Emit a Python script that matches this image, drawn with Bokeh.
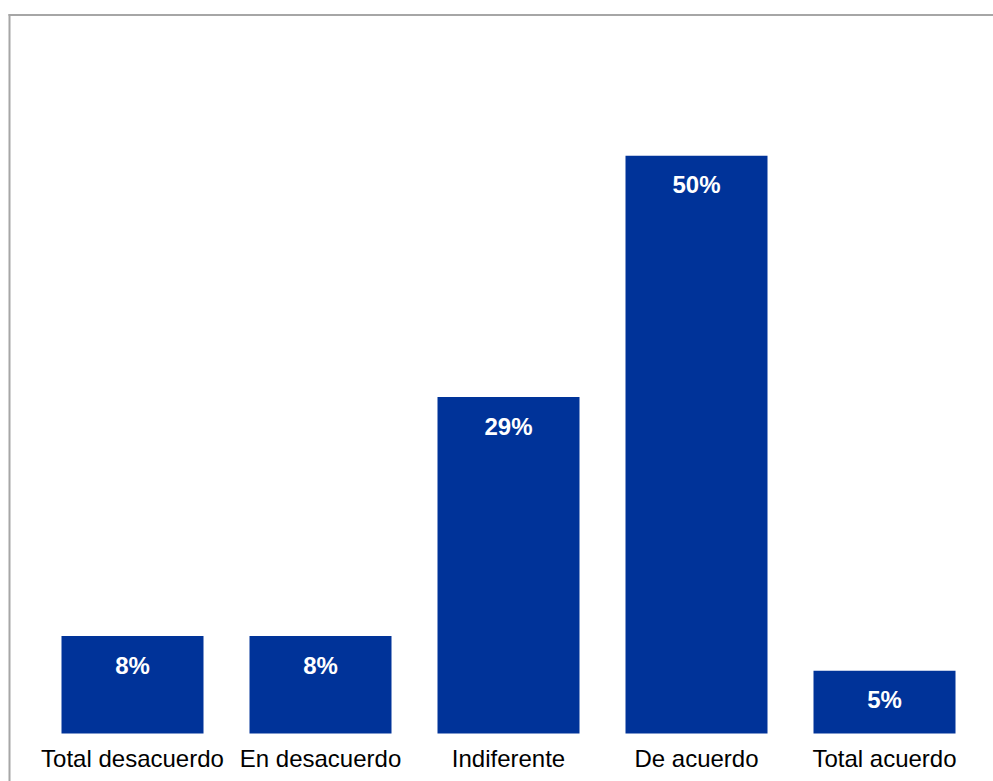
from bokeh.plotting import figure
from bokeh.models import Range1d, ColumnDataSource
from bokeh.core.properties import value
from bokeh.embed import file_html
from bokeh.resources import INLINE

# ---- data ----
categories = ["Total desacuerdo", "En desacuerdo", "Indiferente", "De acuerdo", "Total acuerdo"]
values = [8.4, 8.4, 29.0, 49.8, 5.4]
labels = [f"{round(v)}%" for v in values]

# ---- geometry ----
W, H = 993, 781
PX_PER_CAT = 188.0
FIRST_CENTER_PX = 132.0
PX_PER_PCT = 11.6
BASE_PX_FROM_BOTTOM = 48.0

x_start = -FIRST_CENTER_PX / PX_PER_CAT
x_end = x_start + W / PX_PER_CAT
y_start = -BASE_PX_FROM_BOTTOM / PX_PER_PCT
y_end = y_start + H / PX_PER_PCT

xs = list(range(len(categories)))
src = ColumnDataSource(dict(x=xs, top=values, cat=categories, lab=labels, zero=[0] * len(xs)))

p = figure(width=W, height=H, output_backend="svg", toolbar_location=None,
           x_range=Range1d(x_start, x_end), y_range=Range1d(y_start, y_end),
           x_axis_type=None, y_axis_type=None, min_border=0)
p.outline_line_color = None
p.background_fill_color = "white"
p.border_fill_color = "white"

p.vbar(x="x", top="top", bottom=0, width=142 / PX_PER_CAT, source=src,
       fill_color="#003399", line_color=None)

p.text(x="x", y="top", text="lab", source=src, text_color="white",
       text_font=value("Liberation Sans"), text_font_style="bold",
       text_font_size="24px", text_align="center", text_baseline="alphabetic",
       y_offset=29)

p.text(x="x", y="zero", text="cat", source=src, text_color="black",
       text_font=value("Liberation Sans"), text_font_size="24px",
       text_align="center", text_baseline="alphabetic", y_offset=24.5)

# chart-area border (left and top edges visible)
border = "#a6a6a6"
bx = x_start + 9.0 / PX_PER_CAT
by = y_end - 14.5 / PX_PER_PCT
p.segment(x0=[bx, x_start + 8.0 / PX_PER_CAT], y0=[y_start, by],
          x1=[bx, x_end], y1=[by + 1.0 / PX_PER_PCT, by],
          line_color=border, line_width=2)

open("out.html", "w").write(file_html(p, INLINE))
